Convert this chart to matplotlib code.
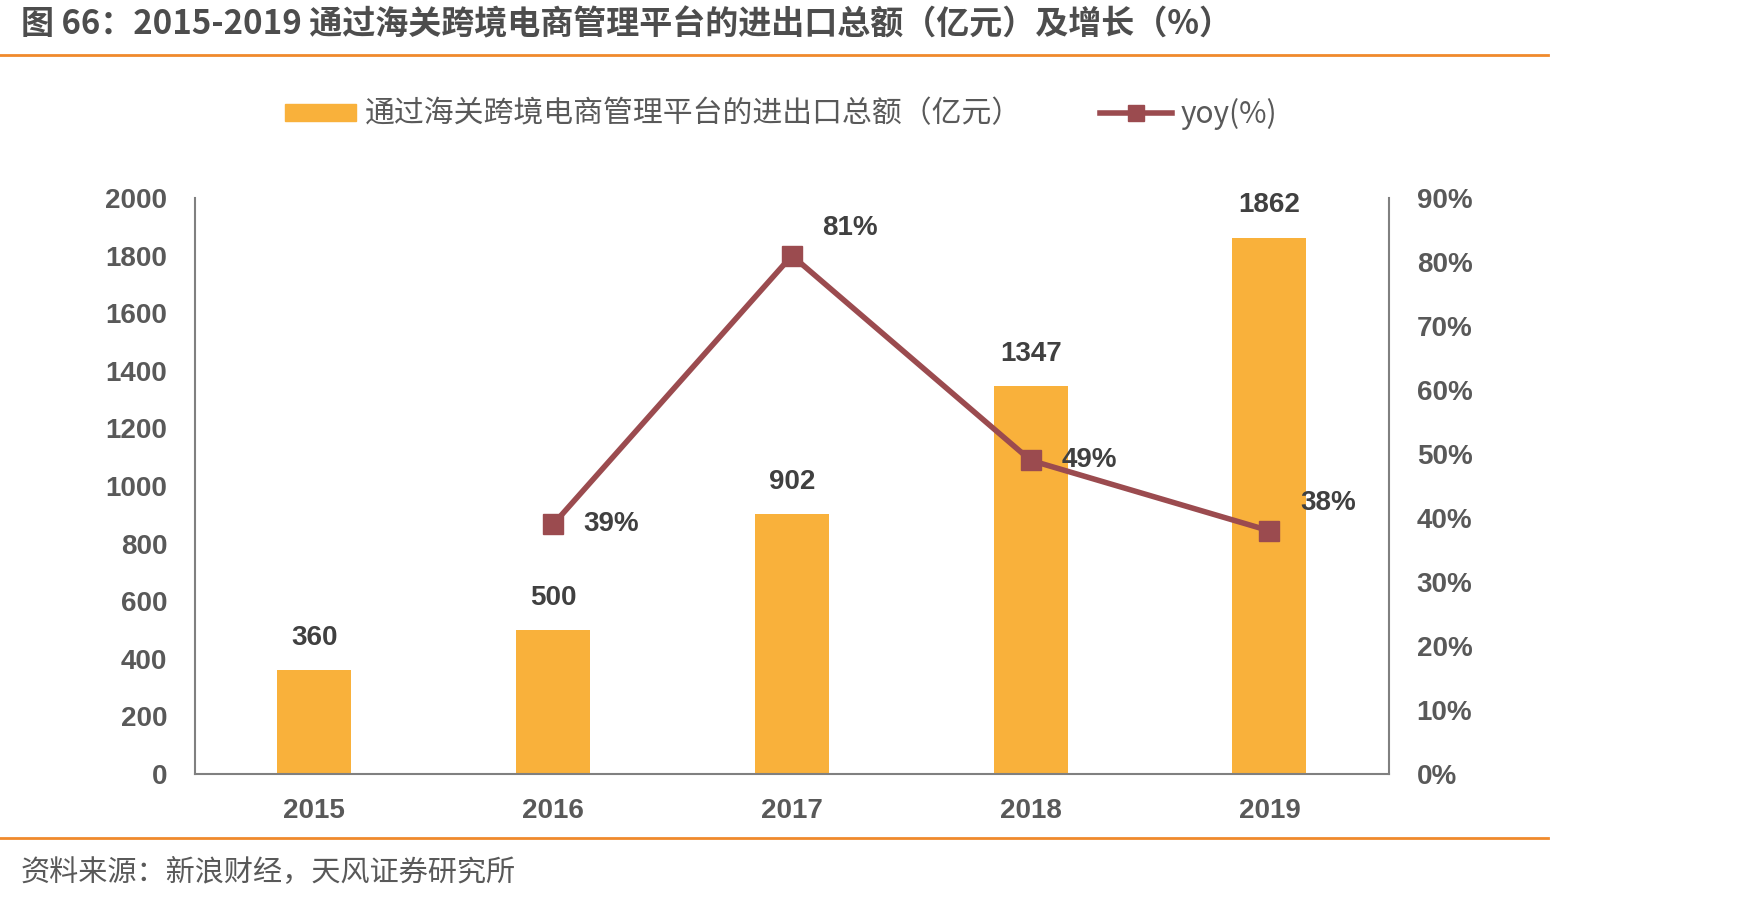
import matplotlib
matplotlib.use('Agg')
import matplotlib.pyplot as plt
from matplotlib.lines import Line2D
from matplotlib.patches import Patch
from matplotlib.ticker import FuncFormatter

plt.rcParams['font.family'] = ['Liberation Sans', 'Noto Sans CJK SC', 'DejaVu Sans']

years = ['2015', '2016', '2017', '2018', '2019']
amount = [360, 500, 902, 1347, 1862]
yoy_years = [1, 2, 3, 4]
yoy = [39, 81, 49, 38]

bar_color = '#F9B13B'
line_color = '#9B4B4F'
rule_color = '#F08A2C'
tick_color = '#595959'
label_color = '#404040'
cjk = ['Noto Sans CJK SC', 'DejaVu Sans']

fig = plt.figure(figsize=(17.47, 9.02), dpi=100)
ax = fig.add_axes([0.1116, 0.1419, 0.6834, 0.6386])
ax2 = ax.twinx()

x = list(range(len(years)))
ax.bar(x, amount, width=0.31, color=bar_color, zorder=2)
ax.set_xlim(-0.5, 4.5)
ax.set_ylim(0, 2000)
ax.set_yticks(range(0, 2001, 200))
ax.set_xticks(x)
ax.set_xticklabels(years)

ax2.plot(yoy_years, yoy, color=line_color, lw=4, marker='s', markersize=14, zorder=3)
ax2.set_ylim(0, 90)
ax2.set_yticks(range(0, 91, 10))
ax2.yaxis.set_major_formatter(FuncFormatter(lambda v, p: '%d%%' % v))

for a in (ax, ax2):
    for s in a.spines.values():
        s.set_visible(False)
    a.tick_params(length=0, labelsize=20, colors=tick_color)
    for lab in a.get_xticklabels() + a.get_yticklabels():
        lab.set_fontweight('bold')
ax.spines['left'].set_visible(True)
ax.spines['bottom'].set_visible(True)
ax2.spines['right'].set_visible(True)
for s in (ax.spines['left'], ax.spines['bottom'], ax2.spines['right']):
    s.set_color('#808080')
    s.set_linewidth(1.5)
ax.tick_params(axis='y', pad=20)
ax.tick_params(axis='x', pad=17)
ax2.tick_params(axis='y', pad=20)

for xi, v in zip(x, amount):
    ax.annotate(str(v), (xi, v), xytext=(0, 14), textcoords='offset points',
                ha='center', va='bottom', fontsize=20, fontweight='bold', color=label_color)

offsets = [(22, 0), (22, 20), (22, 0), (22, 20)]
for xi, v, (dx, dy) in zip(yoy_years, yoy, offsets):
    ax2.annotate('%d%%' % v, (xi, v), xytext=(dx, dy), textcoords='offset points',
                 ha='left', va='center', fontsize=20, fontweight='bold', color=label_color)

handles = [Patch(color=bar_color),
           Line2D([], [], color=line_color, lw=4, marker='s', markersize=12)]
fig.legend(handles, ['通过海关跨境电商管理平台的进出口总额（亿元）', 'yoy(%)'],
           loc='center', bbox_to_anchor=(0.447, 0.874), ncol=2, frameon=False,
           prop={'family': cjk, 'size': 21.5, 'weight': 'medium'}, labelcolor=tick_color,
           handlelength=2.4, handleheight=0.5, columnspacing=2.6, handletextpad=0.3)

fig.text(0.012, 0.972, '图 66：2015-2019 通过海关跨境电商管理平台的进出口总额（亿元）及增长（%）',
         family=cjk, fontsize=23.8, fontweight='bold', color='#4d4d4d', va='center', ha='left')
fig.text(0.012, 0.032, '资料来源：新浪财经，天风证券研究所',
         family=cjk, fontsize=21, color=tick_color, va='center', ha='left')
fig.add_artist(Line2D([0, 0.886], [0.939, 0.939], color=rule_color, lw=2))
fig.add_artist(Line2D([0, 0.886], [0.071, 0.071], color=rule_color, lw=2))

fig.savefig('out.png', dpi=100)
